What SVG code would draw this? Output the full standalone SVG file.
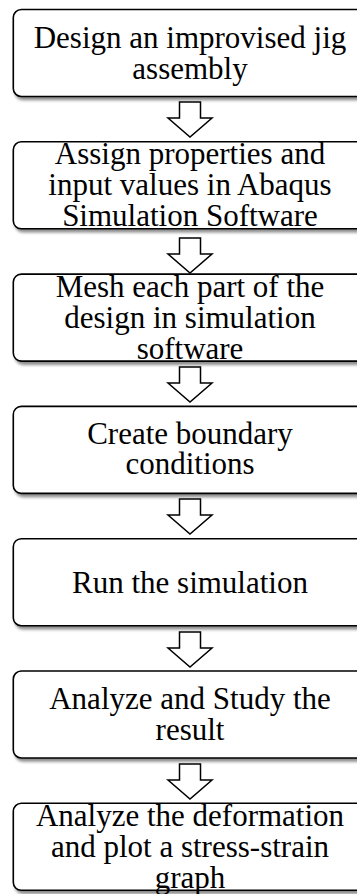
<svg xmlns="http://www.w3.org/2000/svg" width="357" height="894" viewBox="0 0 357 894">
  <style>
    .box { fill: #ffffff; stroke: #000000; stroke-width: 1.6; filter: url(#shadow); }
    .arrow { fill: #ffffff; stroke: #000000; stroke-width: 1.5; stroke-linejoin: miter; }
    .label { font-family: "Liberation Serif", "Times New Roman", serif; font-size: 31px; fill: #000000; text-anchor: middle; }
  </style>
  <defs>
    <filter id="shadow" x="-10%" y="-10%" width="130%" height="130%">
      <feDropShadow dx="2" dy="3" stdDeviation="1.6" flood-color="#000000" flood-opacity="0.45"/>
    </filter>
    <!-- hollow block arrow pointing down, tip at (0,35) -->
    <path id="down" d="M -10.5 0 H 10.5 V 16 H 22 L 0 35 L -22 16 H -10.5 Z"/>
  </defs>

  <!-- process steps -->
  <g id="step1">
    <rect class="box" x="13.3" y="9.5" width="354" height="87" rx="8" ry="8"/>
    <text class="label" x="190" y="47.5">Design an improvised jig</text>
    <text class="label" x="190" y="78.5">assembly</text>
  </g>
  <g id="step2">
    <rect class="box" x="13.3" y="141.8" width="354" height="87" rx="8" ry="8"/>
    <text class="label" x="190" y="164.3">Assign properties and</text>
    <text class="label" x="190" y="195.3">input values in Abaqus</text>
    <text class="label" x="190" y="226.3">Simulation Software</text>
  </g>
  <g id="step3">
    <rect class="box" x="13.3" y="274.1" width="354" height="87" rx="8" ry="8"/>
    <text class="label" x="190" y="296.6">Mesh each part of the</text>
    <text class="label" x="190" y="327.6">design in simulation</text>
    <text class="label" x="190" y="358.6">software</text>
  </g>
  <g id="step4">
    <rect class="box" x="13.3" y="406.4" width="354" height="87" rx="8" ry="8"/>
    <text class="label" x="190" y="443.9">Create boundary</text>
    <text class="label" x="190" y="474.4">conditions</text>
  </g>
  <g id="step5">
    <rect class="box" x="13.3" y="538.7" width="354" height="87" rx="8" ry="8"/>
    <text class="label" x="190" y="592.7">Run the simulation</text>
  </g>
  <g id="step6">
    <rect class="box" x="13.3" y="671" width="354" height="87" rx="8" ry="8"/>
    <text class="label" x="190" y="709">Analyze and Study the</text>
    <text class="label" x="190" y="740">result</text>
  </g>
  <g id="step7">
    <rect class="box" x="13.3" y="803.3" width="354" height="87" rx="8" ry="8"/>
    <text class="label" x="190" y="825.8">Analyze the deformation</text>
    <text class="label" x="190" y="856.8">and plot a stress-strain</text>
    <text class="label" x="190" y="887.8">graph</text>
  </g>

  <!-- connectors -->
  <g id="connectors">
    <use href="#down" class="arrow" x="190" y="102"/>
    <use href="#down" class="arrow" x="190" y="238"/>
    <use href="#down" class="arrow" x="190" y="367"/>
    <use href="#down" class="arrow" x="190" y="499"/>
    <use href="#down" class="arrow" x="190" y="632"/>
    <use href="#down" class="arrow" x="190" y="764"/>
  </g>
</svg>
